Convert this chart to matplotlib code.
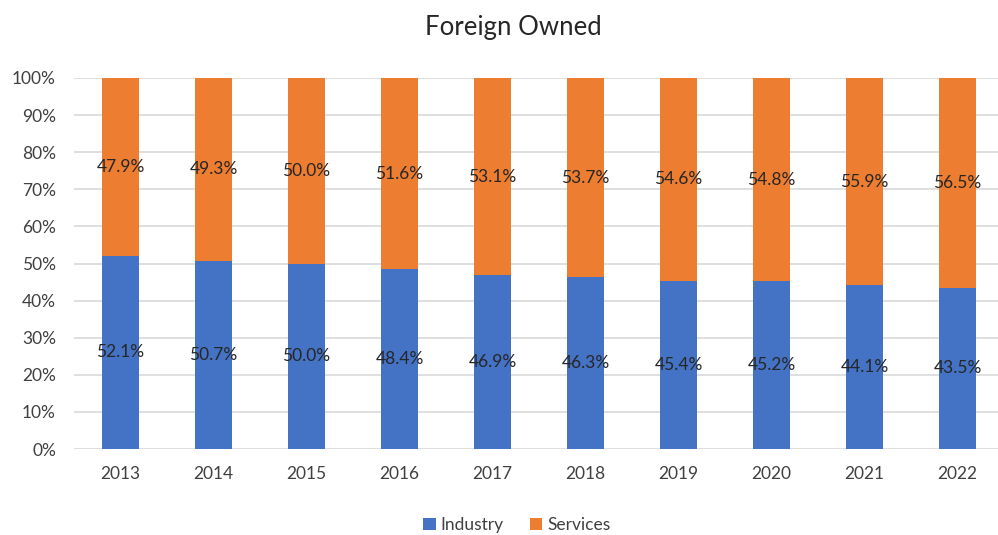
import matplotlib
matplotlib.use('Agg')
import matplotlib.pyplot as plt
import numpy as np
from matplotlib.ticker import PercentFormatter

years = ['2013', '2014', '2015', '2016', '2017', '2018', '2019', '2020', '2021', '2022']
industry = [52.1, 50.7, 50.0, 48.4, 46.9, 46.3, 45.4, 45.2, 44.1, 43.5]
services = [47.9, 49.3, 50.0, 51.6, 53.1, 53.7, 54.6, 54.8, 55.9, 56.5]

plt.rcParams['font.family'] = ['Lato', 'DejaVu Sans']

fig = plt.figure(figsize=(9.98, 5.35), dpi=100)
ax = fig.add_axes([74 / 998, 1 - 449 / 535, 924 / 998, 371 / 535])

x = np.arange(len(years))
w = 0.4
ax.bar(x, industry, w, color='#4472C4', label='Industry', zorder=3)
ax.bar(x, services, w, bottom=industry, color='#ED7D31', label='Services', zorder=3)

for i in range(len(years)):
    ax.text(x[i], industry[i] / 2, f'{industry[i]:.1f}%', ha='center', va='center', fontsize=12.5, color='#262626', zorder=4)
    ax.text(x[i], industry[i] + services[i] / 2, f'{services[i]:.1f}%', ha='center', va='center', fontsize=12.5, color='#262626', zorder=4)

ax.set_xlim(-0.5, 9.435)
ax.set_ylim(0, 100)
ax.set_yticks(np.arange(0, 101, 10))
ax.yaxis.set_major_formatter(PercentFormatter(decimals=0))
ax.set_xticks(x)
ax.set_xticklabels(years)
ax.tick_params(axis='both', length=0, labelsize=12.5, colors='#404040')
ax.tick_params(axis='x', pad=12)
ax.tick_params(axis='y', pad=13)
ax.grid(True, axis='y', color='#D9D9D9', linewidth=1.2, zorder=0)
for s in ax.spines.values():
    s.set_visible(False)

fig.text(513 / 998, 1 - 28 / 535, 'Foreign Owned', ha='center', va='center', fontsize=18.5, color='#262626')
fig.legend(loc='center', bbox_to_anchor=(517 / 998, 1 - 525 / 535), ncol=2, frameon=False,
           fontsize=12.5, handlelength=0.7, handleheight=0.7, handletextpad=0.3, columnspacing=1.5,
           labelcolor='#404040')

fig.savefig('out.png', dpi=100)
